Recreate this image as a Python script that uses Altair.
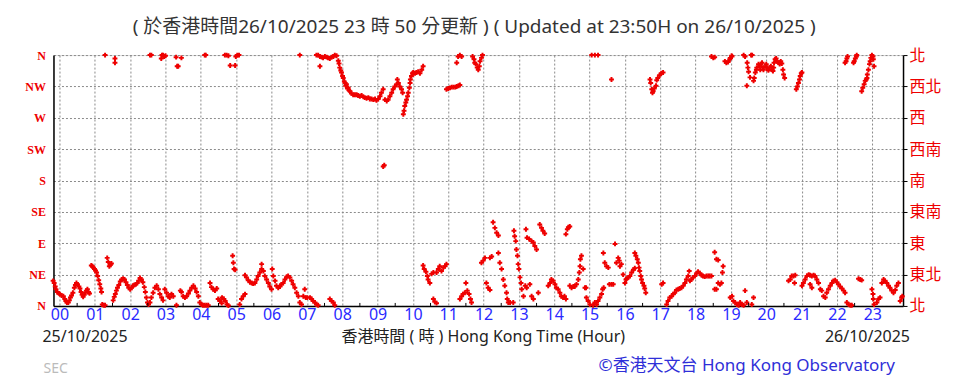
import altair as alt
import pandas as pd

# ---------------- data (hour of day, wind direction in degrees) ----------------
seg_00_05_low = [(-0.18,36),(-0.15,33),(-0.12,28),(-0.10,24),(-0.06,20),(-0.02,18),(0.01,17),(0.06,15),(0.11,14),(0.15,10),(0.18,7),(0.21,5),(0.25,5),(0.28,8),(0.31,12),(0.34,15),(0.38,19),(0.42,26),(0.45,30),(0.48,33),(0.51,31),(0.55,28),(0.58,25),(0.61,20),(0.64,16),(0.67,13),(0.70,16),(0.73,19),(0.76,22),(0.79,24),(0.82,20),(0.85,18),
    (0.90,58),(0.93,57),(0.96,55),(0.99,53),(1.02,51),(1.05,48),(1.08,43),(1.11,37),(1.14,31),(1.17,25),(1.19,20),
    (1.21,2),(1.25,1),(1.29,1),
    (1.35,69),(1.38,63),(1.41,57),(1.44,59),(1.47,61),
    (1.52,8),(1.55,13),(1.58,17),(1.61,22),(1.64,26),(1.68,30),(1.72,35),(1.76,38),(1.80,39),(1.84,38),(1.88,34),(1.92,30),(1.96,26),(2.00,24),(2.04,26),(2.08,29),(2.12,30),(2.16,31),(2.20,33),(2.24,36),(2.28,40),(2.32,38),(2.36,34),(2.40,27),(2.43,20),(2.46,12),(2.49,5),(2.52,2),
    (2.56,5),(2.60,12),(2.65,19),(2.70,26),(2.75,29),(2.80,24),(2.84,17),(2.89,12),(2.93,8),(2.98,24),(3.03,19),(3.08,14),(3.12,12),(3.17,17),(3.22,14),(3.31,1),
    (3.42,22),(3.45,20),(3.50,14),(3.55,12),(3.60,14),(3.65,18),(3.69,22),(3.74,26),(3.79,29),(3.84,25),(3.88,20),(3.93,14),(3.97,5),(4.02,2),(4.06,1),(4.11,1),(4.16,1),(4.21,1),(4.26,33),(4.30,27),(4.35,24),(4.40,22),(4.45,25),(4.49,10),(4.54,7),(4.59,4)]
seg_00_05_high = [(1.29,360),(1.57,355),(1.57,349),(2.56,360),(2.60,360),(2.88,355),(2.90,360),(2.93,360),(2.96,358),(3.00,359),(3.30,357),(3.33,344),(3.36,344),(3.45,356),(4.11,360),(4.14,360)]

seg_05_09_low = [(4.60,12),(4.65,10),(4.69,7),(4.74,2),(4.78,0.5),
    (4.90,72),(4.92,62),(4.94,53),(4.97,52),
    (5.10,2),(5.15,10),(5.20,14),(5.25,17),
    (5.25,44),(5.29,41),(5.34,37),(5.39,34),(5.44,33),(5.48,32),(5.53,33),(5.58,38),(5.62,43),(5.67,48),(5.72,53),(5.72,60),(5.77,50),(5.81,43),(5.86,38),(5.91,33),(5.95,28),(6.00,24),(6.02,53),(6.05,43),(6.10,36),(6.14,29),(6.19,26),(6.24,28),(6.28,31),(6.33,33),(6.38,38),(6.43,42),(6.47,43),(6.52,41),(6.57,36),(6.61,31),(6.66,26),(6.71,19),(6.76,14),(6.80,5),(6.85,2),(6.90,14),(6.94,24),(6.97,12),(7.01,12),(7.09,12),(7.13,10),(7.18,7),(7.23,5),(7.27,2),(7.32,1),(7.65,10),(7.70,7),(7.75,5),(7.79,1)]
seg_05_09_high = [(4.68,360),(4.73,360),(4.78,359),(4.83,345),(4.97,345),(4.99,358),(5.03,360),(5.08,360),(6.80,360),
    (7.27,360),(7.32,360),(7.37,358),(7.37,344),(7.42,357),(7.46,356),(7.51,358),(7.56,357),(7.60,356),(7.65,355),(7.70,357),(7.75,358),(7.79,360),(7.84,359),(7.89,352),(7.91,348),(7.93,342),(7.96,338),(7.98,335),(8.01,330),(8.03,327),(8.06,322),(8.08,320),(8.10,316),(8.12,318),(8.15,312),(8.17,313),(8.20,309),(8.22,308),(8.26,305),(8.31,303),(8.36,303),(8.41,303),(8.45,302),(8.50,301),(8.55,302),(8.60,300),(8.64,299),(8.69,298),(8.74,299),(8.78,297),(8.83,297),(8.88,296),(8.93,297),(8.97,295),(9.02,297),(9.07,301),(9.11,306),(9.16,311),(9.21,296),(9.26,294),(9.30,296),
    (9.16,200),(9.19,202)]

seg_09_14_high = [(9.35,301),(9.40,306),(9.44,311),(9.49,315),(9.54,318),(9.56,325),(9.59,320),(9.63,315),(9.68,311),(9.71,306),(9.73,275),(9.75,280),(9.77,287),(9.80,292),(9.82,296),(9.85,301),(9.87,306),(9.90,313),(9.92,320),(9.93,325),(9.96,330),(9.99,334),(10.01,335),(10.06,334),(10.10,335),(10.15,336),(10.20,334),(10.25,339),(10.29,344),
    (10.95,311),(11.00,312),(11.05,313),(11.10,314),(11.15,314),(11.20,314),(11.24,315),(11.29,316),(11.33,317),
    (11.24,349),(11.28,358),(11.33,360),(11.38,358),
    (11.69,358),(11.73,354),(11.75,349),(11.78,347),(11.82,342),(11.85,339),(11.88,344),(11.90,351),(11.94,356),(11.97,360)]
seg_09_14_low = [(10.29,58),(10.32,53),(10.37,49),(10.41,43),(10.43,38),(10.48,33),(10.53,46),(10.58,48),(10.67,48),(10.72,53),(10.76,57),(10.81,50),(10.86,55),(10.91,57),(10.95,60),
    (10.58,10),(10.62,6),(10.67,4),
    (11.33,10),(11.38,14),(11.42,17),(11.47,19),(11.50,33),(11.54,22),(11.59,17),(11.63,10),(11.66,5),
    (11.94,62),(11.99,65),(12.04,69),(12.08,33),(12.13,26),(12.18,23),
    (12.18,69),(12.23,71),(12.27,120),(12.32,112),(12.37,105),(12.42,101),
    (12.42,76),(12.46,62),(12.51,53),(12.56,38),(12.60,29),(12.65,19),(12.67,10),(12.70,5),(12.75,5),(12.84,5),
    (12.86,108),(12.88,100),(12.91,93),(12.93,81),(12.96,72),(12.98,60),(13.00,53),(13.03,41),(13.06,33),(13.08,24),(13.13,14),(13.18,29),(13.22,26),
    (13.20,110),(13.23,98),(13.29,96),(13.36,93),(13.41,91),(13.45,86),(13.50,81),
    (13.31,31),(13.36,14),(13.41,10),(13.55,19),
    (13.59,117),(13.64,112),(13.68,108),(13.73,104),
    (13.83,29),(13.88,33),(13.92,38),(13.97,36),(14.02,31),(14.06,26),(14.11,24),(14.16,19),(14.20,14),(14.25,12)]

seg_14_19_low = [(14.29,14),(14.33,10),(14.33,103),(14.37,110),(14.40,113),(14.44,114),
    (14.44,29),(14.49,26),(14.54,28),(14.58,28),(14.63,31),(14.68,38),(14.71,48),(14.73,57),(14.74,67),(14.77,72),(14.82,53),(14.87,26),(14.90,26),
    (14.91,12),(14.96,7),(15.01,2),(15.10,1),(15.15,5),(15.20,2),
    (15.24,7),(15.29,12),(15.34,17),(15.37,24),(15.40,26),
    (15.39,76),(15.43,62),(15.48,57),(15.53,55),
    (15.56,31),(15.62,31),(15.67,31),
    (15.72,89),
    (15.76,62),(15.81,69),(15.84,65),(15.86,57),(15.90,60),(15.95,45),
    (16.00,33),(16.03,38),(16.05,39),(16.10,41),(16.14,43),(16.19,48),(16.24,52),(16.28,54),
    (16.28,76),(16.31,72),(16.35,67),(16.38,62),(16.40,55),(16.42,50),(16.45,43),(16.47,38),(16.50,33),(16.54,29),(16.56,25),(16.59,19),
    (17.04,31),(17.08,33),
    (17.18,2),(17.22,7),(17.27,12),(17.32,14),(17.37,17),(17.41,19),(17.46,23),(17.51,24),(17.55,25),(17.60,26),(17.65,29),(17.70,33),(17.74,38),(17.79,43),(17.82,50),(17.84,36),(17.88,38),(17.93,41),(17.98,43),(18.03,47),(18.07,49),(18.12,47),(18.17,44),(18.21,43),(18.26,42),(18.31,43),(18.36,43),(18.40,43),(18.45,43),
    (18.54,77),(18.59,67),(18.64,66),
    (18.64,33),(18.69,31),(18.73,33),(18.76,48),(18.78,57),
    (18.54,24),(18.59,24)]
seg_14_19_high = [(15.06,360),(15.15,360),(15.24,360),(15.62,325),
    (16.71,325),(16.73,320),(16.76,311),(16.78,306),(16.80,308),(16.83,312),(16.88,316),(16.90,324),(16.93,327),(16.98,331),(17.03,334),(17.08,335),
    (18.45,358),(18.50,356),(18.54,357),(18.83,351),(18.87,349),(18.92,350),(18.97,354),(19.02,359)]

seg_19_24_low = [(18.98,12),(19.03,14),(19.07,7),(19.12,5),(19.17,2),(19.22,1),(19.26,5),(19.31,2),(19.36,1),(19.40,22),(19.45,5),(19.59,2),(19.64,12),
    (20.63,36),(20.68,38),(20.72,43),(20.77,43),(20.80,33),(20.82,44),
    (21.01,29),(21.05,33),(21.10,38),(21.15,43),(21.20,45),(21.24,44),(21.29,43),(21.34,44),(21.38,43),(21.43,38),(21.48,33),(21.24,31),(21.29,26),(21.53,24),
    (21.57,22),(21.62,14),(21.67,12),(21.71,19),(21.76,24),(21.81,29),(21.86,33),(21.90,36),(21.95,37),(22.00,34),(22.04,31),(22.09,28),(22.14,25),(22.19,22),(22.23,19),
    (22.28,5),(22.33,2),(22.38,1),(22.42,1),
    (22.61,39),(22.66,38),(22.70,37),
    (22.99,24),(23.02,17),(23.03,10),(23.05,2),
    (23.13,5),(23.18,10),(23.22,12),
    (23.27,33),(23.32,38),(23.36,36),(23.41,33),(23.46,29),(23.50,26),(23.55,22),(23.60,19),(23.65,23),(23.69,29),(23.74,33),
    (23.79,7),(23.83,12),(23.85,14)]
seg_19_24_high = [(18.98,356),(19.03,358),(19.36,360),(19.40,358),(19.46,349),(19.48,342),(19.50,336),(19.54,328),(19.45,316),(19.57,360),(19.60,360),
    (19.64,323),(19.66,327),(19.69,335),(19.72,339),(19.73,342),(19.78,347),(19.81,344),(19.83,339),(19.85,347),(19.88,349),(19.90,342),(19.92,339),(19.97,344),(20.00,347),(20.02,342),(20.06,338),(20.09,342),(20.13,344),(20.16,339),(20.19,337),(20.21,342),(20.22,349),(20.25,354),(20.28,355),(20.30,351),(20.35,349),(20.38,347),(20.39,349),(20.41,351),(20.44,348),(20.47,339),(20.49,332),(20.52,327),
    (20.85,311),(20.88,315),(20.91,320),(20.94,325),(20.96,330),(20.99,334),(21.01,335),
    (22.23,349),(22.26,351),(22.28,355),(22.30,358),(22.47,349),(22.49,351),(22.52,355),(22.55,358),(22.56,360),
    (22.70,308),(22.73,313),(22.77,318),(22.80,323),(22.83,325),(22.85,327),(22.86,332),(22.89,339),(22.92,347),(22.94,351),(22.96,356),(22.99,360),(23.02,358),(23.03,354),(23.05,344)]

hour_ticks = list(range(24))
hour_labels = ["%02d" % h for h in hour_ticks]
dir_ticks = [0, 45, 90, 135, 180, 225, 270, 315, 360]
dir_labels_en = ["N", "NE", "E", "SE", "S", "SW", "W", "NW", "N"]
dir_labels_zh = ["北", "東北", "東", "東南", "南", "西南", "西", "西北", "北"]
half_hours = [h + 0.5 for h in range(23)]

title_text = "( 於香港時間26/10/2025 23 時 50 分更新 ) ( Updated at 23:50H on 26/10/2025 )"
x_title = "香港時間 ( 時 )  Hong Kong Time (Hour)"
start_date = "25/10/2025"
end_date = "26/10/2025"
credit = "©香港天文台 Hong Kong Observatory"
station = "SEC"

# ---------------- build ----------------
pts = (seg_00_05_low + seg_00_05_high + seg_05_09_low + seg_05_09_high +
       seg_09_14_high + seg_09_14_low + seg_14_19_low + seg_14_19_high +
       seg_19_24_low + seg_19_24_high)
df = pd.DataFrame(pts, columns=["hour", "dir"])

W, H = 850, 251
RED = "#ee0000"
FONT = "Noto Sans, Noto Sans CJK TC, sans-serif"

x_scale = alt.Scale(domain=[-0.17, 23.87], nice=False, zero=False)
y_scale = alt.Scale(domain=[0, 360], nice=False, zero=False)

def expr_from(labels, step):
    arr = "[" + ",".join("'%s'" % s for s in labels) + "]"
    return "%s[round(datum.value/%s)]" % (arr, step)

x_axis = alt.Axis(values=hour_ticks, labelExpr=expr_from(hour_labels, 1), grid=True,
                  gridDash=[2, 2], gridColor="#8a8a8a", gridWidth=1, ticks=False,
                  domainColor="black", domainWidth=1.5, labelColor="#2a2aff",
                  labelFontSize=16, labelFont=FONT, labelPadding=1, title=None,
                  labelOverlap=False, labelFlush=False, labelBound=False)

points = alt.Chart(df).mark_point(shape="cross", filled=True, size=24, color=RED, opacity=1).encode(
    x=alt.X("hour:Q", scale=x_scale, axis=x_axis),
    y=alt.Y("dir:Q", scale=y_scale,
            axis=alt.Axis(orient="left", values=dir_ticks, labelExpr=expr_from(dir_labels_en, 45),
                          grid=True, gridDash=[2, 2], gridColor="#8a8a8a", gridWidth=1, ticks=False,
                          domainColor="black", domainWidth=1.5, labelColor=RED,
                          labelFont="Liberation Serif", labelFontSize=12, labelFontWeight="bold",
                          labelPadding=8,
                          title=None, labelOverlap=False, labelFlush=False, labelBound=False)),
)

right_axis = alt.Chart(df).mark_point(opacity=0).encode(
    x=alt.X("hour:Q", scale=x_scale, axis=x_axis),
    y=alt.Y("dir:Q", scale=y_scale,
            axis=alt.Axis(orient="right", values=dir_ticks, labelExpr=expr_from(dir_labels_zh, 45),
                          grid=False, ticks=True, tickSize=4, tickColor="black",
                          domainColor="black", domainWidth=1.5, labelColor=RED,
                          labelFont="Noto Sans CJK TC", labelFontSize=16, labelPadding=2,
                          title=None, labelOverlap=False, labelFlush=False, labelBound=False)),
)

minor = alt.Chart(pd.DataFrame({"h": half_hours})).mark_rule(color="black", strokeWidth=1).encode(
    x=alt.X("h:Q", scale=x_scale, axis=x_axis),
    y=alt.value(H - 3), y2=alt.value(H),
)

def label(text, x, y, align, color, size):
    return alt.Chart(pd.DataFrame({"t": [text]})).mark_text(
        align=align, baseline="middle", font=FONT, fontSize=size, color=color
    ).encode(x=alt.value(x), y=alt.value(y), text="t:N")

texts = [
    label(title_text, 421, -28, "center", "#333333", 19),
    label(start_date, -11, 282, "left", "#222222", 16),
    label(x_title, 430, 282, "center", "#222222", 16),
    label(end_date, 857, 282, "right", "#222222", 16),
    label(station, -10, 314, "left", "#bbbbbb", 14),
    label(credit, 842, 311, "right", "#2f2fd8", 17),
]

chart = alt.layer(points, right_axis, minor, *texts).resolve_axis(y="independent").properties(
    width=W, height=H,
    autosize=alt.AutoSizeParams(type="none"),
    padding={"left": 45.5, "top": 47, "right": 53, "bottom": 72},
).configure_view(stroke=None).configure(background="white")

chart.save("out.html", embed_options={"renderer": "svg", "actions": False})
